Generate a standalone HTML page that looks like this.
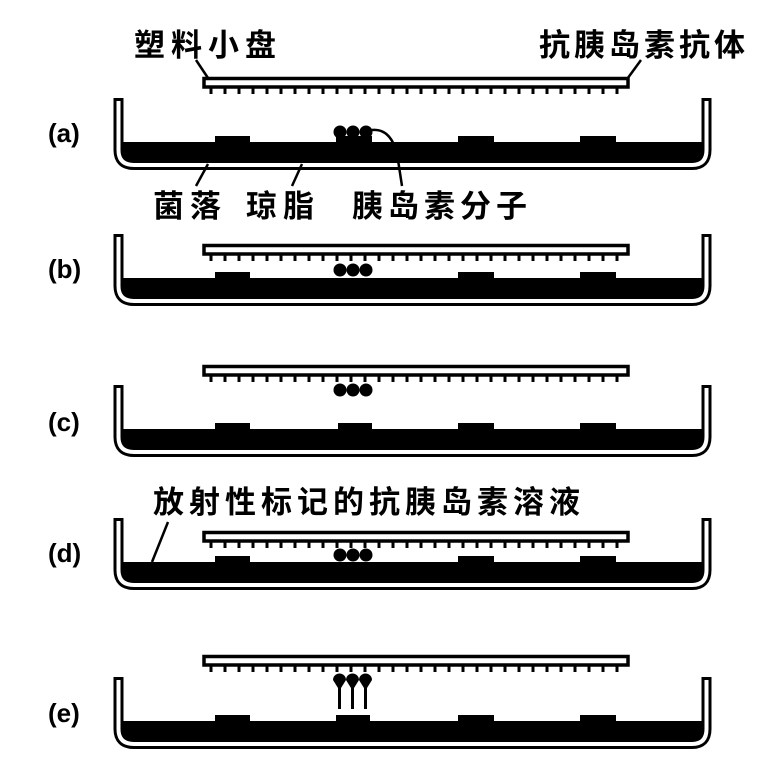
<!DOCTYPE html>
<html><head><meta charset="utf-8"><style>
body{margin:0;background:#fff;}
svg{display:block}
text{font-family:"Liberation Sans","WenQuanYi Zen Hei","Noto Sans CJK SC",sans-serif;fill:#000;font-weight:bold}
</style></head><body>
<svg width="776" height="782" viewBox="0 0 776 782">
<defs>
<pattern id="teeth" x="204" y="0" width="14" height="10" patternUnits="userSpaceOnUse">
<rect x="5.5" y="0" width="3" height="7" fill="#000"/>
</pattern>
<g id="dish">
<rect x="122" y="44" width="580" height="22" fill="#000"/>
<path d="M118.5 0 V52 Q118.5 67 134 67 H692 Q706.5 67 706.5 52 V0" fill="none" stroke="#000" stroke-width="10"/>
<path d="M118.5 3 V52 Q118.5 67 134 67 H692 Q706.5 67 706.5 52 V3" fill="none" stroke="#fff" stroke-width="4"/>
<rect x="116.5" y="0" width="4" height="3" fill="#000"/>
<rect x="704.5" y="0" width="4" height="3" fill="#000"/>
<rect x="215" y="38" width="35" height="8" fill="#000"/>
<rect x="458" y="38" width="36" height="8" fill="#000"/>
<rect x="580" y="38" width="36" height="8" fill="#000"/>
</g>
<g id="plate">
<rect x="204" y="1.5" width="424" height="8.5" fill="#fff" stroke="#000" stroke-width="3.5"/>
<rect x="204" y="11" width="424" height="8" fill="url(#teeth)"/>
</g>
<g id="mol">
<circle cx="340" cy="0" r="6.5"/><circle cx="353" cy="0" r="6.5"/><circle cx="366" cy="0" r="6.5"/>
</g>
</defs>

<text x="134" y="56" font-size="31" letter-spacing="6">塑料小盘</text>
<text x="539" y="56" font-size="31" letter-spacing="4">抗胰岛素抗体</text>
<path d="M196 60 L208 78" stroke="#000" stroke-width="2.5"/>
<path d="M641 60 L622 86" stroke="#000" stroke-width="2.5"/>

<use href="#plate" transform="translate(0,77)"/>
<use href="#dish" transform="translate(0,98)"/>
<rect x="336" y="136" width="36" height="8" fill="#000"/>
<g fill="#000"><use href="#mol" transform="translate(0,132)"/></g>
<path d="M372 130 Q392 128 398 158" fill="none" stroke="#000" stroke-width="2.5"/>
<text x="48" y="142" font-size="26">(a)</text>
<path d="M208 164 L196 186 M302 164 L292 186 M398 160 L402 186" stroke="#000" stroke-width="2.5"/>
<text x="153" y="217" font-size="31" letter-spacing="6">菌落</text>
<text x="246" y="217" font-size="31" letter-spacing="6">琼脂</text>
<text x="352" y="217" font-size="31" letter-spacing="5">胰岛素分子</text>

<use href="#dish" transform="translate(0,234)"/>
<use href="#plate" transform="translate(0,244)"/>
<g fill="#000"><use href="#mol" transform="translate(0,270)"/></g>
<text x="48" y="278" font-size="26">(b)</text>

<use href="#plate" transform="translate(0,365)"/>
<use href="#dish" transform="translate(0,385)"/>
<rect x="338" y="423" width="34" height="8" fill="#000"/>
<g fill="#000"><use href="#mol" transform="translate(0,390)"/></g>
<text x="48" y="431" font-size="26">(c)</text>

<text x="153" y="513" font-size="31" letter-spacing="5">放射性标记的抗胰岛素溶液</text>
<path d="M168 522 L152 562" stroke="#000" stroke-width="2.5"/>
<use href="#dish" transform="translate(0,518)"/>
<use href="#plate" transform="translate(0,531)"/>
<g fill="#000"><use href="#mol" transform="translate(0,555)"/></g>
<text x="48" y="562" font-size="26">(d)</text>

<use href="#plate" transform="translate(0,655)"/>
<use href="#dish" transform="translate(0,677)"/>
<rect x="336" y="715" width="34" height="8" fill="#000"/>
<g fill="#000">
<path d="M333 680 a6.5 6.5 0 1 1 13 0 l-5 8 h-3 z"/>
<path d="M346 680 a6.5 6.5 0 1 1 13 0 l-5 8 h-3 z"/>
<path d="M359 680 a6.5 6.5 0 1 1 13 0 l-5 8 h-3 z"/>
<rect x="338" y="686" width="3" height="23"/>
<rect x="351" y="686" width="3" height="23"/>
<rect x="364" y="686" width="3" height="23"/>
</g>
<text x="48" y="722" font-size="26">(e)</text>
</svg>
</body></html>
